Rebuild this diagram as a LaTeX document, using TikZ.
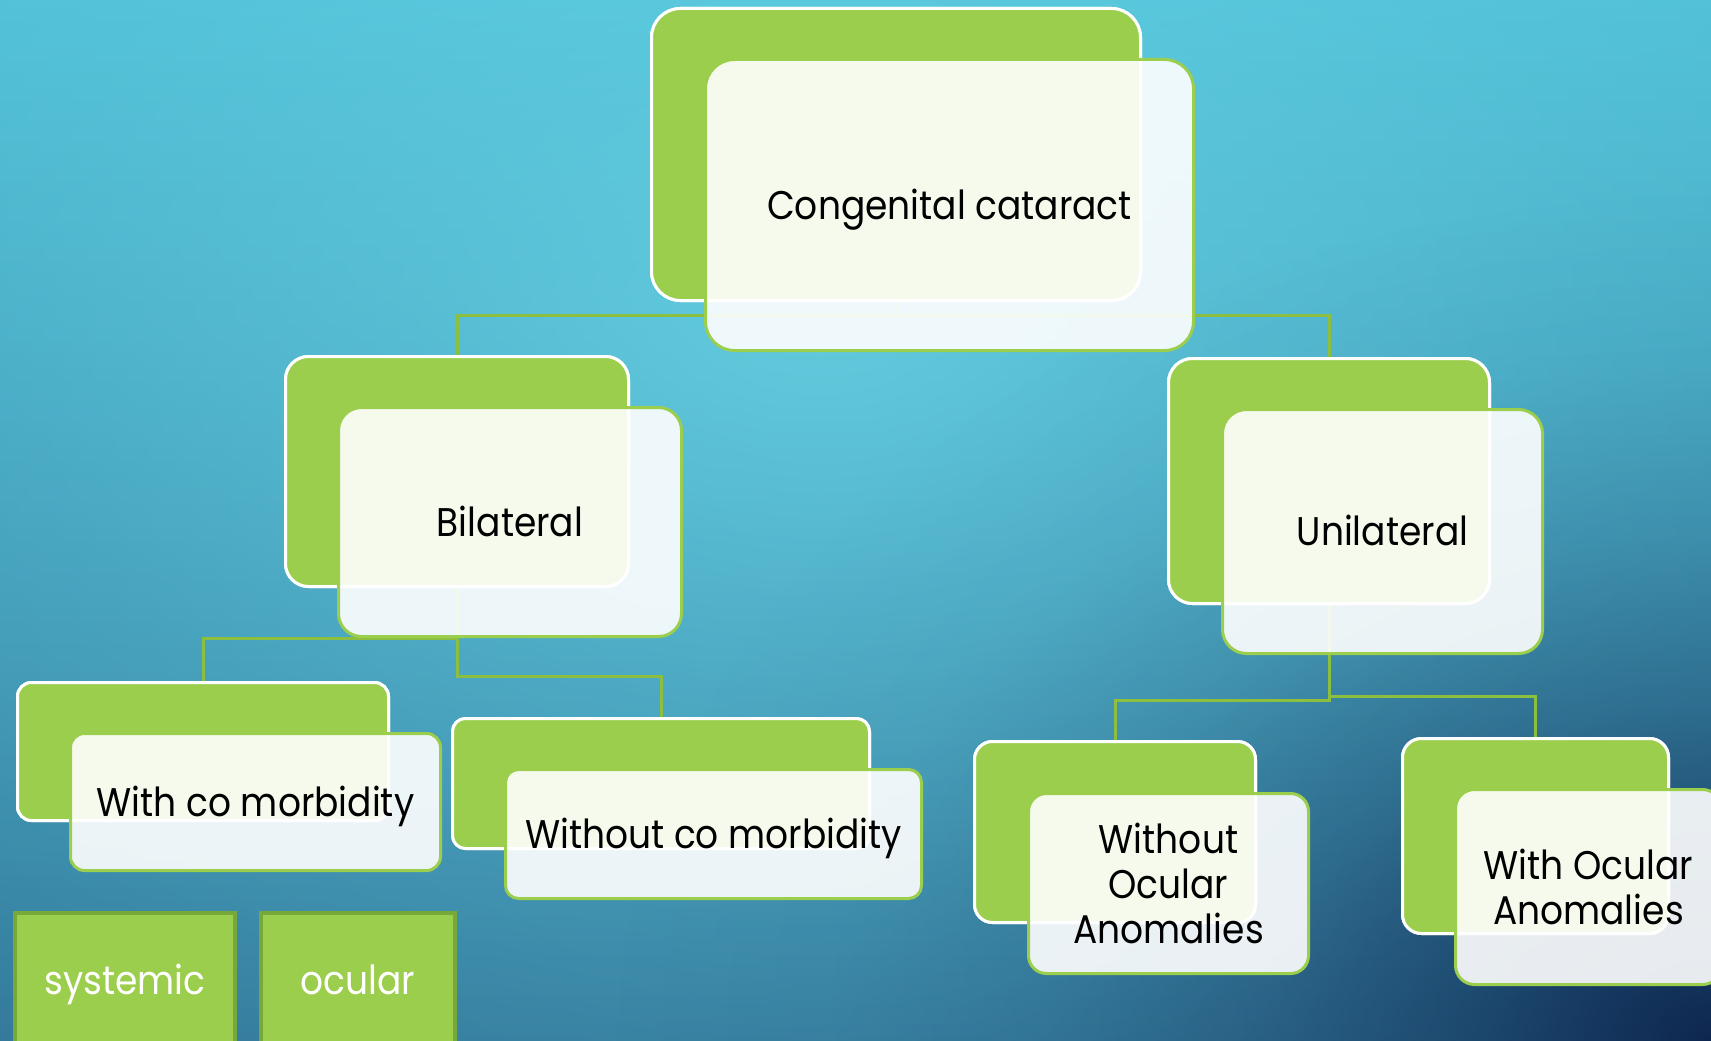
\documentclass[tikz,border=0pt]{standalone}
\usepackage{fontspec}
\setmainfont{Poppins}[FakeStretch=0.9]
\usetikzlibrary{fadings}
\definecolor{gr}{HTML}{9CCE4D}
\definecolor{grdark}{HTML}{76A83A}
\definecolor{conncol}{HTML}{8CBF3F}
\definecolor{bgtop}{RGB}{76,190,214}
\definecolor{bgmid}{RGB}{68,172,201}
\definecolor{bgbot}{RGB}{46,112,148}
\definecolor{navy}{HTML}{0E2750}
\definecolor{glowc}{HTML}{6AD3E5}
\pgfdeclareradialshading{cornershade}{\pgfpointorigin}{color(0bp)=(white); color(5bp)=(black!36); color(10bp)=(black!64); color(15bp)=(black!84); color(20bp)=(black!96); color(25bp)=(black); color(50bp)=(black)}
\pgfdeclarefading{cornerfade}{\pgfuseshading{cornershade}}
\begin{document}
\begin{tikzpicture}[x=1pt,y=-1pt,
  backbox/.style={draw=white, line width=3pt, fill=gr, anchor=north west, inner sep=0pt},
  frontbox/.style={draw=gr, line width=3pt, fill=white, fill opacity=0.9, text opacity=1,
    anchor=north west, inner sep=0pt, font=\fontsize{40}{45}\selectfont, align=center},
  oneline/.style={text height=28pt, text depth=0pt},
  conn/.style={draw=conncol, line width=3pt},
  catbox/.style={draw=grdark, line width=3.5pt, fill=gr, text=white, anchor=north west,
    inner sep=0pt, text height=28pt, text depth=12pt, font=\fontsize{40}{45}\selectfont}
]
\useasboundingbox (0,0) rectangle (1711,1041);
% background
\begin{scope}
  \clip (0,0) rectangle (1711,1041);
  \shade[top color=bgtop, middle color=bgmid, bottom color=bgbot] (0,0) rectangle (1711,1041);
  \fill[glowc, fill opacity=0.8, path fading=cornerfade] (820,320) ellipse [x radius=2000pt, y radius=1400pt];
  \fill[navy, path fading=cornerfade] (1711,1041) ellipse [x radius=1100pt, y radius=850pt];
\end{scope}

% back boxes
\node[backbox, rounded corners=29pt, minimum width=489pt, minimum height=292pt] (b1) at (650,7) {};
\node[backbox, rounded corners=23pt, minimum width=343pt, minimum height=230pt] (b2) at (284,355) {};
\node[backbox, rounded corners=24pt, minimum width=321pt, minimum height=245pt] (b3) at (1167,357) {};
\node[backbox, rounded corners=14pt, minimum width=371pt, minimum height=138pt] (b4) at (16,681) {};
\node[backbox, rounded corners=13pt, minimum width=417pt, minimum height=130pt] (b5) at (451,717) {};
\node[backbox, rounded corners=18pt, minimum width=281pt, minimum height=181pt] (b6) at (973,740) {};
\node[backbox, rounded corners=19pt, minimum width=266pt, minimum height=195pt] (b7) at (1401,737) {};

% connectors
\draw[conn] (b1.south) -- ++(0,13) -| (b2.north);
\draw[conn] (b1.south) -- ++(0,13) -| (b3.north);
\draw[conn] (b2.south) -- ++(0,50) -| (b4.north);
\draw[conn] (b2.south) -- ++(0,88) -| (b5.north);
\draw[conn] (b3.south) -- ++(0,95) -| (b6.north);
\draw[conn] (b3.south) -- ++(0,91) -| (b7.north);

% redraw back boxes over connector ends
\node[backbox, rounded corners=29pt, minimum width=489pt, minimum height=292pt] at (650,7) {};
\node[backbox, rounded corners=23pt, minimum width=343pt, minimum height=230pt] at (284,355) {};
\node[backbox, rounded corners=24pt, minimum width=321pt, minimum height=245pt] at (1167,357) {};
\node[backbox, rounded corners=14pt, minimum width=371pt, minimum height=138pt] at (16,681) {};
\node[backbox, rounded corners=13pt, minimum width=417pt, minimum height=130pt] at (451,717) {};
\node[backbox, rounded corners=18pt, minimum width=281pt, minimum height=181pt] at (973,740) {};
\node[backbox, rounded corners=19pt, minimum width=266pt, minimum height=195pt] at (1401,737) {};

% front boxes
\node[frontbox, oneline, rounded corners=29pt, minimum width=488pt, minimum height=291pt] (f1) at (704,58) {Congenital cataract};
\node[frontbox, oneline, rounded corners=23pt, minimum width=343pt, minimum height=229pt] (f2) at (337,406) {Bilateral};
\node[frontbox, oneline, rounded corners=24pt, minimum width=320pt, minimum height=244pt] (f3) at (1221,408) {Unilateral};
\node[frontbox, oneline, rounded corners=14pt, minimum width=370pt, minimum height=137pt] (f4) at (69,732) {With co morbidity};
\node[frontbox, oneline, rounded corners=13pt, minimum width=416pt, minimum height=129pt] (f5) at (504,768) {Without co morbidity};
\node[frontbox, rounded corners=18pt, minimum width=280pt, minimum height=180pt] (f6) at (1027,792) {Without\\Ocular\\Anomalies};
\node[frontbox, rounded corners=19pt, minimum width=266pt, minimum height=195pt] (f7) at (1454,788) {With Ocular\\Anomalies};

% category boxes
\node[catbox, minimum width=220pt, minimum height=148pt] (c1) at (13,911) {systemic};
\node[catbox, minimum width=194pt, minimum height=148pt] (c2) at (259,911) {ocular};
\end{tikzpicture}
\end{document}
